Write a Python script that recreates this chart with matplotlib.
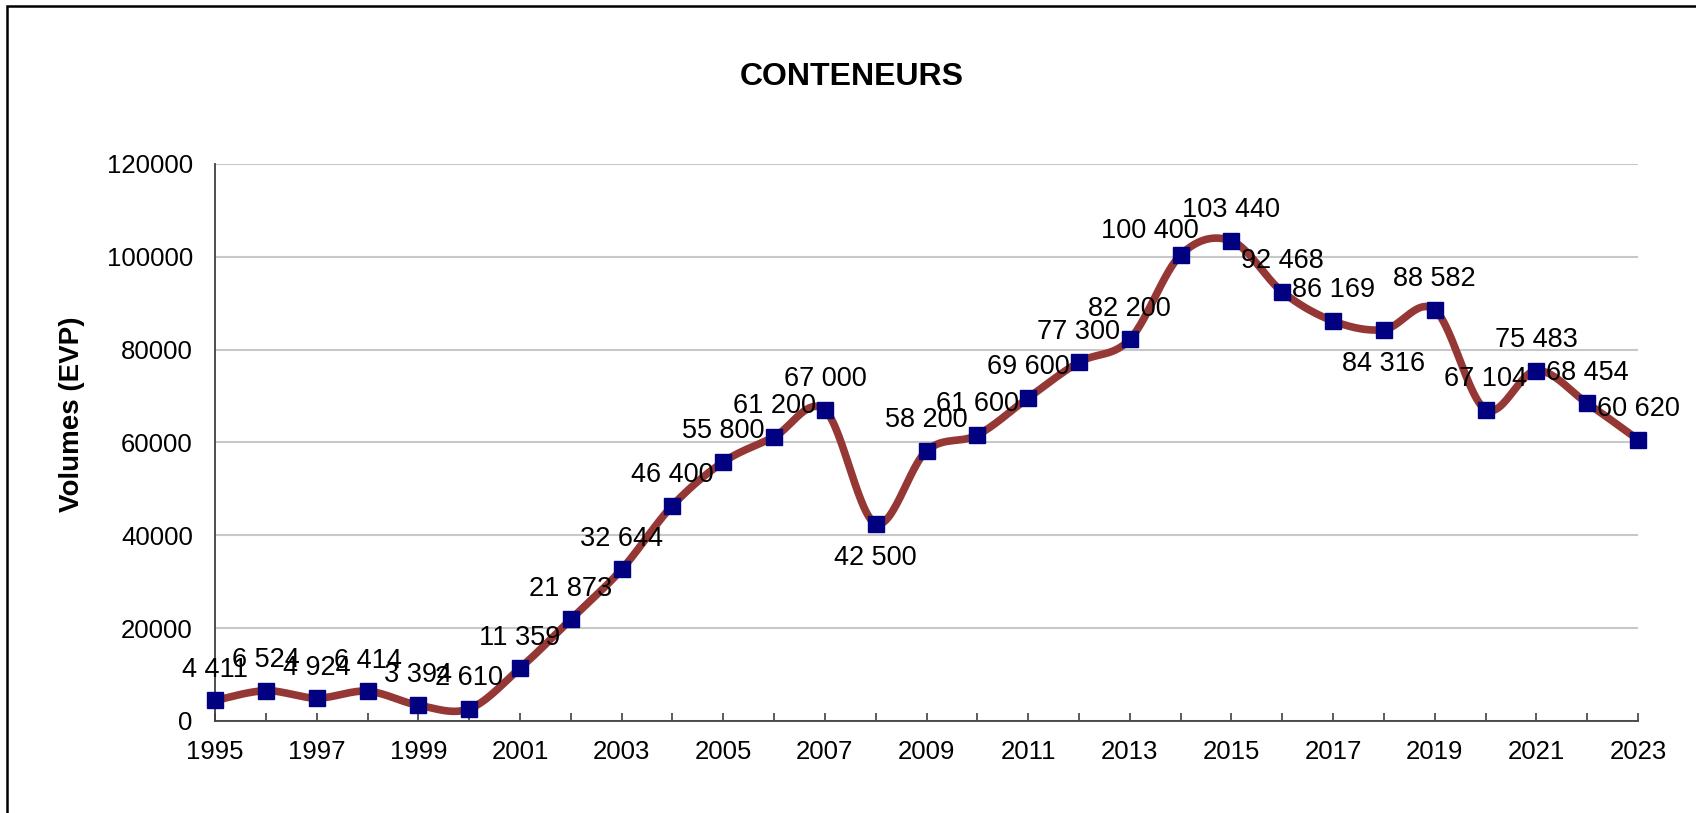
import matplotlib.pyplot as plt
import numpy as np
from matplotlib.patches import Rectangle

plt.rcParams['font.family'] = ['Liberation Sans', 'DejaVu Sans']

# Data
years = list(range(1995, 2024))
volumes = [4411, 6524, 4924, 6414, 3394, 2610, 11359, 21873, 32644, 46400,
           55800, 61200, 67000, 42500, 58200, 61600, 69600, 77300, 82200, 100400,
           103440, 92468, 86169, 84316, 88582, 67104, 75483, 68454, 60620]

# label placement (points): default above the marker
label_offsets = {2008: (0, -25), 2018: (0, -25), 2014: (-22, 17)}


def smooth_line(x, y, n=30):
    # Excel-like smoothed line: Catmull-Rom through bezier control points
    x = np.asarray(x, float)
    y = np.asarray(y, float)
    xs, ys = [], []
    t = np.linspace(0, 1, n)
    for i in range(len(x) - 1):
        i0 = max(i - 1, 0)
        i3 = min(i + 2, len(x) - 1)
        c1x = x[i] + (x[i + 1] - x[i0]) / 6
        c1y = y[i] + (y[i + 1] - y[i0]) / 6
        c2x = x[i + 1] - (x[i3] - x[i]) / 6
        c2y = y[i + 1] - (y[i3] - y[i]) / 6
        bx = ((1 - t) ** 3) * x[i] + 3 * ((1 - t) ** 2) * t * c1x + 3 * (1 - t) * t ** 2 * c2x + t ** 3 * x[i + 1]
        by = ((1 - t) ** 3) * y[i] + 3 * ((1 - t) ** 2) * t * c1y + 3 * (1 - t) * t ** 2 * c2y + t ** 3 * y[i + 1]
        xs.extend(bx)
        ys.extend(by)
    return xs, ys


fig = plt.figure(figsize=(16.96, 8.13), dpi=100)
ax = fig.add_axes([0.1268, 0.1132, 0.8390, 0.6851])

sx, sy = smooth_line(years, volumes)
ax.plot(sx, sy, color='#953735', linewidth=5.5, solid_capstyle='round', zorder=2)
ax.plot(years, volumes, linestyle='none', marker='s', markersize=11.5,
        color='#000080', zorder=3, clip_on=False)

for yr, v in zip(years, volumes):
    dx, dy = label_offsets.get(yr, (0, 22))
    ax.annotate(f"{v:,}".replace(",", " "), (yr, v), xytext=(dx, dy),
                textcoords='offset points', ha='center', va='center',
                fontsize=19.5, color='black', zorder=4)

ax.set_xlim(1995, 2023)
ax.set_ylim(0, 120000)
ax.set_yticks(range(0, 120001, 20000))
ax.set_xticks(years, minor=False)
ax.set_xticklabels([str(y) if (y - 1995) % 2 == 0 else '' for y in years])
ax.tick_params(axis='x', direction='in', length=6, width=1.2, color='#404040',
               labelsize=18.5, pad=14)
ax.tick_params(axis='y', length=0, labelsize=18.5, pad=16)

ax.grid(axis='y', color='#c8c8c8', linewidth=1.5)
ax.set_axisbelow(True)
for s in ['top', 'right']:
    ax.spines[s].set_visible(False)
for s in ['left', 'bottom']:
    ax.spines[s].set_color('#404040')
    ax.spines[s].set_linewidth(1.3)

fig.text(0.502, 0.905, 'CONTENEURS', ha='center', va='center',
         fontsize=23, fontweight='bold')
fig.text(0.0425, 0.491, 'Volumes (EVP)', ha='center', va='center',
         rotation=90, fontsize=20, fontweight='bold')

# outer chart frame (only top and left edges fall inside the picture)
fig.patches.append(Rectangle((7 / 1696, -0.1), 1.2, 1 - 6 / 813 + 0.1,
                             transform=fig.transFigure, fill=False,
                             edgecolor='black', linewidth=1.8))

fig.savefig('out.png', dpi=100)
